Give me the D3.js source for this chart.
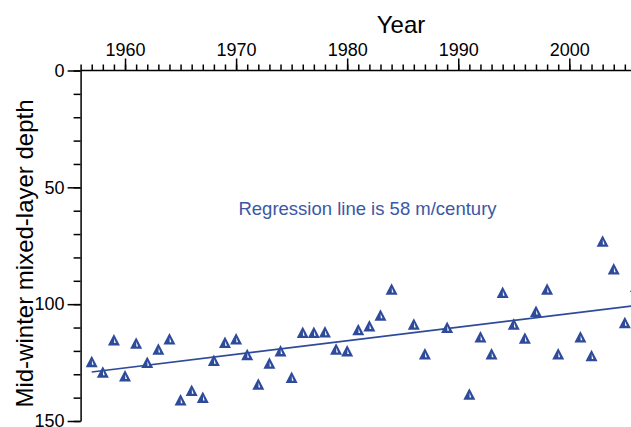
<!DOCTYPE html>
<html>
<head>
<meta charset="utf-8">
<script src="https://cdn.jsdelivr.net/npm/d3@7"></script>
<style>
  html, body { margin: 0; padding: 0; background: #fff; }
  svg { display: block; font-family: "Liberation Sans", Arial, sans-serif; }
</style>
</head>
<body>
<svg id="chart" width="631" height="427"></svg>
<script>
// Winter mixed-layer depth by year
const years  = [1957,1958,1959,1960,1961,1962,1963,1964,1965,1966,1967,1968,1969,1970,
                1971,1972,1973,1974,1975,1976,1977,1978,1979,1980,1981,1982,1983,1984,
                1986,1987,1989,1991,1992,1993,1994,1995,1996,1997,1998,1999,2001,2002,
                2003,2004,2005,2006];
const depths = [124.6,129.1,115.3,130.7,116.7,125.0,119.3,114.9,141.0,137.0,139.9,124.1,116.4,114.9,
                121.6,134.3,125.3,120.0,131.4,112.1,112.1,111.9,119.3,120.0,111.0,109.3,104.7,93.6,
                108.6,121.3,110.0,138.6,114.1,121.3,95.0,108.6,114.6,103.1,93.6,121.3,114.1,122.1,
                73.1,85.0,107.9,92.4];

// Linear trend: depth at the start year and slope (m per year)
const trendStart = 1957;
const trendEnd = 2006;
const trendStartDepth = 129.0;
const trendSlope = 0.58;   // 58 m/century

const xMajorTicks = [1960, 1970, 1980, 1990, 2000];
const xMinorTicks = d3.range(1956, 2007);
const yMajorTicks = [0, 50, 100, 150];
const yMinorTicks = d3.range(0, 151, 10);

const blue = "#2e4a9a";
const textBlue = "#3b57a5";

const svg = d3.select("#chart");

const x = d3.scaleLinear().domain([1956, 2006]).range([80.6, 635.95]);
const y = d3.scaleLinear().domain([0, 150]).range([70.5, 421]);

// Top (year) axis: yearly minor ticks and labelled decades
const topMinor = svg.append("g").attr("transform", `translate(0,${y(0)})`)
  .call(d3.axisTop(x).tickValues(xMinorTicks).tickSize(6).tickSizeOuter(0).tickFormat(""));
const topMajor = svg.append("g").attr("transform", `translate(0,${y(0)})`)
  .call(d3.axisTop(x).tickValues(xMajorTicks).tickSize(12).tickSizeOuter(0)
        .tickPadding(2.5).tickFormat(d3.format("d")));
topMajor.select(".domain").remove();
topMinor.select(".domain").attr("d", `M${x(1956)},0H631`);

// Left (depth) axis
const leftMinor = svg.append("g").attr("transform", `translate(${x(1956)},0)`)
  .call(d3.axisLeft(y).tickValues(yMinorTicks).tickSize(7).tickSizeOuter(0).tickFormat(""));
const leftMajor = svg.append("g").attr("transform", `translate(${x(1956)},0)`)
  .call(d3.axisLeft(y).tickValues(yMajorTicks).tickSize(13).tickSizeOuter(0)
        .tickPadding(3).tickFormat(d3.format("d")));
leftMajor.select(".domain").remove();

svg.selectAll(".domain, .tick line").attr("stroke", "#000").attr("stroke-width", 1.5);
svg.selectAll(".tick text").attr("font-size", 18).attr("fill", "#000")
  .attr("font-family", "'Liberation Sans', Arial, sans-serif");

// Axis titles
svg.append("text")
  .attr("x", 401).attr("y", 33)
  .attr("text-anchor", "middle")
  .attr("font-size", 24)
  .text("Year");

svg.append("text")
  .attr("transform", "translate(33,253.5) rotate(-90)")
  .attr("text-anchor", "middle")
  .attr("font-size", 24)
  .text("Mid-winter mixed-layer depth");

// Trend line
svg.append("line")
  .attr("x1", x(trendStart))
  .attr("y1", y(trendStartDepth))
  .attr("x2", x(trendEnd))
  .attr("y2", y(trendStartDepth - trendSlope * (trendEnd - trendStart)))
  .attr("stroke", blue)
  .attr("stroke-width", 1.6);

// Triangle markers with a thin white notch inside
const pts = years.map((yr, i) => ({ yr, v: depths[i] }));
const mk = svg.append("g").selectAll("g").data(pts).join("g")
  .attr("transform", d => `translate(${x(d.yr)},${y(d.v)})`);
mk.append("path")
  .attr("d", "M0,-6L6,5.5L-6,5.5Z")
  .attr("fill", blue);
mk.append("path")
  .attr("d", "M0.2,-1.5L0.2,3.2L2,3.2Z")
  .attr("fill", "#fff");

// Annotation
svg.append("text")
  .attr("x", 367.5).attr("y", 215)
  .attr("text-anchor", "middle")
  .attr("font-size", 18.5)
  .attr("fill", textBlue)
  .text("Regression line is 58 m/century");
</script>
</body>
</html>
